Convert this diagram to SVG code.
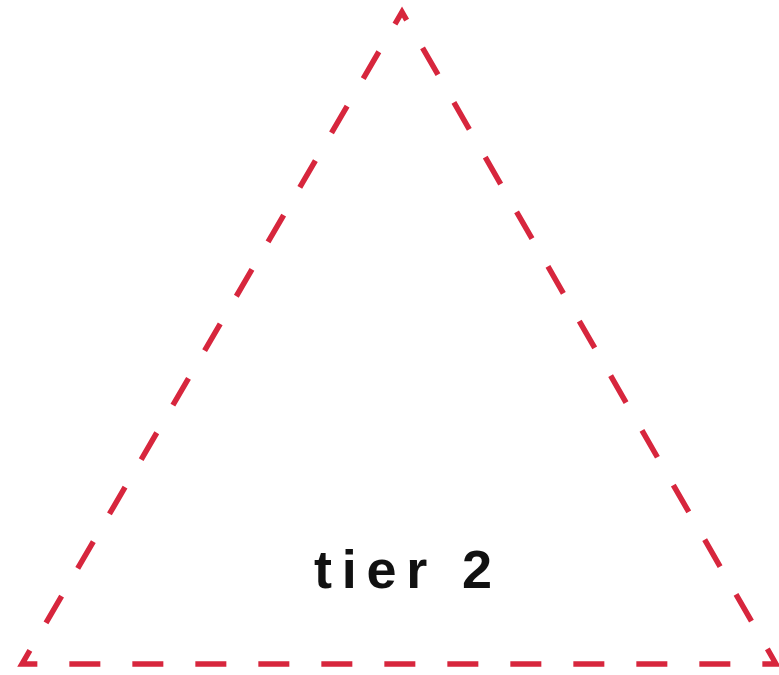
<svg xmlns="http://www.w3.org/2000/svg" width="779" height="675" viewBox="0 0 779 675">
  <style>
    .edge { fill: none; stroke: #d7263d; stroke-width: 5.5; stroke-dasharray: 31 32; stroke-dashoffset: 17; stroke-linejoin: miter; stroke-miterlimit: 10; }
    .label { font-family: "Liberation Sans", "DejaVu Sans", sans-serif; font-size: 54px; font-weight: bold; fill: #111; }
  </style>
  <rect width="779" height="675" fill="#ffffff"/>
  <g id="connectors">
  </g>
  <g id="tier2">
    <path class="edge" d="M402,12 L22,664 L776,664 Z"/>
    <text class="label" x="314" y="588" textLength="178" lengthAdjust="spacing">tier 2</text>
  </g>
</svg>
